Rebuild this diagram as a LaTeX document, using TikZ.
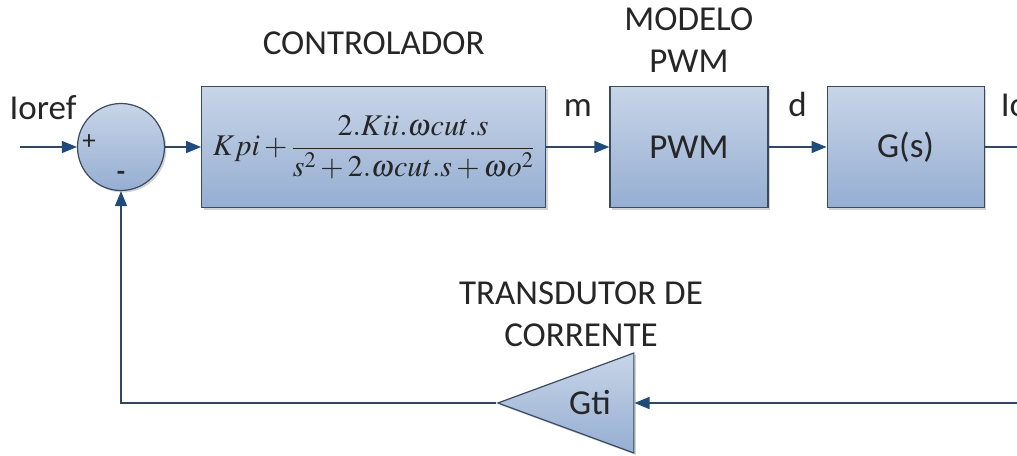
\documentclass[tikz,border=0pt]{standalone}
\usepackage{amsmath}
\usepackage{mathptmx}
\usepackage{fontspec}
\setmainfont{Carlito}
\usepackage{tikz}
\usetikzlibrary{arrows.meta,positioning,shapes.geometric,shadows}
\definecolor{blkTop}{HTML}{C8D5E8}
\definecolor{blkBot}{HTML}{95AED2}
\definecolor{blkEdge}{HTML}{3A4A60}
\definecolor{wire}{HTML}{2D4764}
\definecolor{tipc}{HTML}{1F4A7A}
\definecolor{txt}{HTML}{262626}

\begin{document}
\begin{tikzpicture}[x=1pt,y=-1pt,
  node distance=36pt and 58pt,
  lbl/.style={text=txt,font=\fontsize{35}{42}\selectfont,align=center,inner sep=0pt},
  block/.style={draw=blkEdge,line width=1.2pt,top color=blkTop,bottom color=blkBot,minimum height=121pt,text=txt,font=\fontsize{35}{42}\selectfont,drop shadow={shadow xshift=2pt,shadow yshift=-2pt,opacity=0.35}},
  sumnode/.style={circle,draw=blkEdge,line width=1.2pt,top color=blkTop,bottom color=blkBot,minimum size=87pt,inner sep=0pt,drop shadow={shadow xshift=2pt,shadow yshift=-2pt,opacity=0.35}},
  gain/.style={isosceles triangle,shape border rotate=180,isosceles triangle stretches,draw=blkEdge,line width=1.2pt,top color=blkTop,bottom color=blkBot,minimum width=100pt,minimum height=136pt,inner sep=0pt,drop shadow={shadow xshift=2pt,shadow yshift=-2pt,opacity=0.35}},
  arrow/.style={-{Triangle[length=15pt,width=12pt,color=tipc]},line width=1.4pt,draw=wire}
]
\useasboundingbox (0,0) rectangle (1017,455);
\node[sumnode] (sum) at (121,147) {};
\node[lbl] (ioref) at (43,108) {Ioref};
\coordinate (in) at (20,147);
\node[block,minimum width=344pt,right=36pt of sum,font=\fontsize{30}{36}\selectfont] (ctrl)
  {$Kpi+\dfrac{2.Kii.\omega cut.s}{s^{2}+2.\omega cut.s+\omega o^{2}}$};
\node[block,minimum width=158pt,right=63pt of ctrl] (pwm) {PWM};
\node[block,minimum width=157pt,right=58pt of pwm] (plant) {G(s)};
\coordinate[right=38pt of plant] (out);
\node[lbl,above=31pt of ctrl] (ctrllbl) {CONTROLADOR};
\node[lbl,above=13pt of pwm] (pwmlbl) {MODELO\\PWM};
\node[lbl,above right=30pt and 16pt of plant.east,anchor=south west] (io) {Io};
\node[gain] (gti) at (599,403) {};
\node[lbl,text=txt] (gtitxt) at (590,403) {Gti};
\node[lbl,above=18pt of gti,xshift=-18pt] (gtilbl) {TRANSDUTOR DE\\CORRENTE};
\coordinate (fbin) at (1017,403);
% signs of the sum
\node[lbl,font=\fontsize{27}{30}\selectfont] (plus) at (89,142) {+};
\node[lbl,font=\bfseries\fontsize{27}{30}\selectfont] (minus) at (121,176) {-};
% wires
\draw[arrow] (in) -- (sum);
\draw[arrow] (sum) -- (ctrl);
\draw[arrow] (ctrl) -- node[lbl,above=30pt] (mlbl) {m} (pwm);
\draw[arrow] (pwm) -- node[lbl,above=30pt] (dlbl) {d} (plant);
\draw[line width=1.4pt,draw=wire] (plant) -- (out);
\draw[arrow] (fbin) -- (gti);
\draw[arrow] (gti.apex) -| (sum);
\end{tikzpicture}
\end{document}
